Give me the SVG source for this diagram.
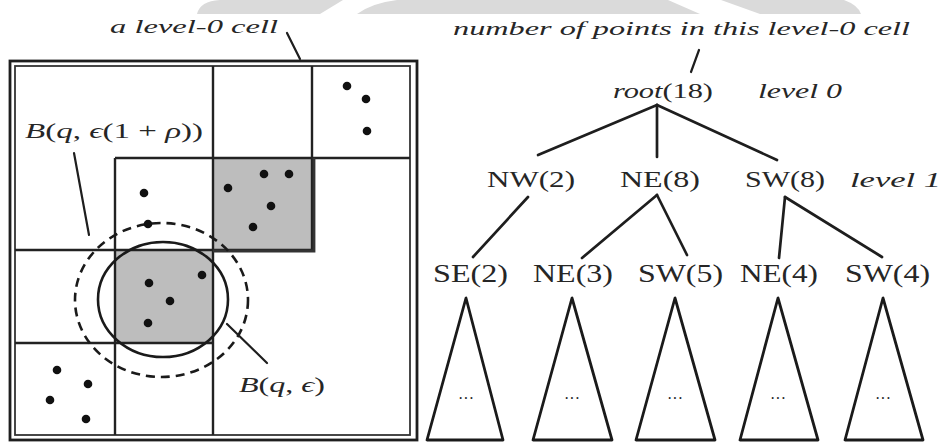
<svg xmlns="http://www.w3.org/2000/svg" width="951" height="443" viewBox="0 0 951 443">
<style>
  .ln { stroke: #1e1e1e; fill: none; stroke-linecap: round; }
  .grid { stroke: #222; stroke-width: 2.4; fill: none; }
  .dot { fill: #111; }
  .shade { fill: #bdbdbd; }
  .txt { font-family: "Liberation Serif", "DejaVu Serif", serif; fill: #262626; }
  .it { font-style: italic; }
  .tri { stroke: #1a1a1a; stroke-width: 2.8; fill: #fff; stroke-linejoin: round; }
  .wm { fill: #dadada; }
</style>
<rect width="951" height="443" fill="#fff"/>
<g id="watermark">
  <path class="wm" d="M197,14 Q200,1 220,0 L343,0 L320,14 Z"/>
  <path class="wm" d="M357,14 Q372,3 397,0 L668,0 L700,14 Z"/>
  <path class="wm" d="M721,0 L844,0 Q858,5 861,14 L760,14 Z"/>
</g>
<g id="grid-panel">
  <rect class="shade" x="213" y="158" width="99" height="92"/>
  <rect class="shade" x="115" y="250" width="98" height="93"/>
  <rect x="10" y="61" width="407" height="379" fill="none" stroke="#1e1e1e" stroke-width="2.8"/>
  <rect x="15" y="66" width="395" height="369" fill="none" stroke="#333" stroke-width="1.8"/>
  <path class="grid" d="M213,66 V435 M312,66 V250 M115,158 H410 M115,158 V435 M15,250 H313 M15,343 H213"/>
  <path d="M314,158 V251 H213" fill="none" stroke="#333" stroke-width="2.8"/>
  <ellipse cx="163" cy="299.5" rx="65" ry="57.5" fill="none" stroke="#1a1a1a" stroke-width="2.6"/>
  <ellipse cx="161.5" cy="300" rx="86.5" ry="77" fill="none" stroke="#1a1a1a" stroke-width="2.6" stroke-dasharray="9 6"/>
  <g id="points">
    <circle class="dot" cx="347" cy="86" r="4.3"/>
    <circle class="dot" cx="366" cy="99" r="4.3"/>
    <circle class="dot" cx="367" cy="131" r="4.3"/>
    <circle class="dot" cx="264" cy="174" r="4.3"/>
    <circle class="dot" cx="289" cy="174" r="4.3"/>
    <circle class="dot" cx="228" cy="188" r="4.3"/>
    <circle class="dot" cx="271" cy="206" r="4.3"/>
    <circle class="dot" cx="253" cy="227" r="4.3"/>
    <circle class="dot" cx="144" cy="193" r="4.3"/>
    <circle class="dot" cx="148" cy="224" r="4.3"/>
    <circle class="dot" cx="149" cy="283" r="4.3"/>
    <circle class="dot" cx="170" cy="301" r="4.3"/>
    <circle class="dot" cx="148" cy="323" r="4.3"/>
    <circle class="dot" cx="202" cy="275" r="4.3"/>
    <circle class="dot" cx="57" cy="370" r="4.3"/>
    <circle class="dot" cx="88" cy="384" r="4.3"/>
    <circle class="dot" cx="50" cy="400" r="4.3"/>
    <circle class="dot" cx="86" cy="419" r="4.3"/>
  </g>
</g>
<g id="labels-left">
  <text class="txt it" x="110" y="33" font-size="18" textLength="168" lengthAdjust="spacingAndGlyphs">a level-0 cell</text>
  <text class="txt" x="25" y="138" font-size="22" textLength="178" lengthAdjust="spacingAndGlyphs"><tspan class="it">B</tspan>(<tspan class="it">q</tspan>, <tspan class="it">ϵ</tspan>(1 + <tspan class="it">ρ</tspan>))</text>
  <text class="txt" x="239" y="392" font-size="22" textLength="86" lengthAdjust="spacingAndGlyphs"><tspan class="it">B</tspan>(<tspan class="it">q</tspan>, <tspan class="it">ϵ</tspan>)</text>
</g>
<g id="connectors">
  <line class="ln" stroke-width="2.2" x1="287" y1="33" x2="300" y2="59"/>
  <line class="ln" stroke-width="2.2" x1="74" y1="153" x2="89" y2="235"/>
  <line class="ln" stroke-width="2.2" x1="227" y1="324" x2="267" y2="363"/>
  <line class="ln" stroke-width="2.2" x1="699" y1="50" x2="691" y2="72"/>
  <line class="ln" stroke-width="2.7" x1="657" y1="105" x2="538" y2="155"/>
  <line class="ln" stroke-width="2.7" x1="657" y1="105" x2="657" y2="157"/>
  <line class="ln" stroke-width="2.7" x1="657" y1="105" x2="777" y2="160"/>
  <line class="ln" stroke-width="2.7" x1="528" y1="197" x2="473" y2="257"/>
  <line class="ln" stroke-width="2.7" x1="657" y1="195" x2="582" y2="258"/>
  <line class="ln" stroke-width="2.7" x1="657" y1="195" x2="687" y2="255"/>
  <line class="ln" stroke-width="2.7" x1="785" y1="197" x2="779" y2="258"/>
  <line class="ln" stroke-width="2.7" x1="785" y1="197" x2="882" y2="257"/>
</g>
<g id="annotation-top">
  <text class="txt it" x="453" y="35" font-size="18" textLength="457" lengthAdjust="spacingAndGlyphs">number of points in this level-0 cell</text>
</g>
<g id="node-root">
  <text class="txt" x="613" y="98" font-size="22" textLength="100" lengthAdjust="spacingAndGlyphs"><tspan class="it">root</tspan>(18)</text>
</g>
<g id="level0-label"><text class="txt it" x="758" y="98" font-size="21" textLength="84" lengthAdjust="spacingAndGlyphs">level 0</text></g>
<g id="level1-label"><text class="txt it" x="850" y="187" font-size="21" textLength="91" lengthAdjust="spacingAndGlyphs">level 1</text></g>
<g id="node-NW2"><text class="txt" x="487" y="187" font-size="24" textLength="88" lengthAdjust="spacingAndGlyphs">NW(2)</text></g>
<g id="node-NE8"><text class="txt" x="620" y="187" font-size="24" textLength="80" lengthAdjust="spacingAndGlyphs">NE(8)</text></g>
<g id="node-SW8"><text class="txt" x="745" y="187" font-size="24" textLength="80" lengthAdjust="spacingAndGlyphs">SW(8)</text></g>
<g id="node-SE2"><text class="txt" x="433" y="282" font-size="25" textLength="75" lengthAdjust="spacingAndGlyphs">SE(2)</text></g>
<g id="node-NE3"><text class="txt" x="533" y="282" font-size="25" textLength="80" lengthAdjust="spacingAndGlyphs">NE(3)</text></g>
<g id="node-SW5"><text class="txt" x="638" y="282" font-size="25" textLength="85" lengthAdjust="spacingAndGlyphs">SW(5)</text></g>
<g id="node-NE4"><text class="txt" x="740" y="282" font-size="25" textLength="78" lengthAdjust="spacingAndGlyphs">NE(4)</text></g>
<g id="node-SW4"><text class="txt" x="845" y="282" font-size="25" textLength="85" lengthAdjust="spacingAndGlyphs">SW(4)</text></g>
<g id="subtree-1"><polygon class="tri" points="466,298 427,440 503,440"/><text class="txt" x="466" y="404" font-size="16" text-anchor="middle" fill="#666">···</text></g>
<g id="subtree-2"><polygon class="tri" points="572,298 533,440 612,440"/><text class="txt" x="572" y="404" font-size="16" text-anchor="middle" fill="#666">···</text></g>
<g id="subtree-3"><polygon class="tri" points="675,298 636,440 715,440"/><text class="txt" x="675" y="404" font-size="16" text-anchor="middle" fill="#666">···</text></g>
<g id="subtree-4"><polygon class="tri" points="778,298 740,440 818,440"/><text class="txt" x="778" y="404" font-size="16" text-anchor="middle" fill="#666">···</text></g>
<g id="subtree-5"><polygon class="tri" points="883,298 845,440 923,440"/><text class="txt" x="883" y="404" font-size="16" text-anchor="middle" fill="#666">···</text></g>
</svg>
